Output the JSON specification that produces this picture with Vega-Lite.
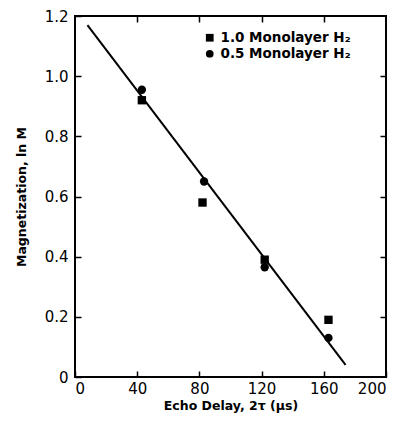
{
  "$schema": "https://vega.github.io/schema/vega-lite/v6.json",
  "width": 311,
  "height": 361,
  "autosize": "none",
  "padding": {"left": 75, "top": 16, "right": 19, "bottom": 44},
  "background": "white",
  "config": {
    "view": {"stroke": "black", "strokeWidth": 2},
    "font": "DejaVu Sans",
    "axis": {"grid": false, "domain": false, "tickColor": "black", "tickWidth": 1.5, "tickSize": -6, "labelFont": "DejaVu Sans", "labelFontSize": 15, "labelColor": "black", "titleFont": "DejaVu Sans", "titleFontSize": 12.5, "titleFontWeight": "bold", "titleColor": "black"}
  },
  "resolve": {"axis": {"x": "independent", "y": "independent"}},
  "datasets": {
    "pts": [
      {"delay": 43, "lnM": 0.92, "series": "1.0 Monolayer H₂"},
      {"delay": 82, "lnM": 0.58, "series": "1.0 Monolayer H₂"},
      {"delay": 122, "lnM": 0.39, "series": "1.0 Monolayer H₂"},
      {"delay": 163, "lnM": 0.19, "series": "1.0 Monolayer H₂"},
      {"delay": 43, "lnM": 0.955, "series": "0.5 Monolayer H₂"},
      {"delay": 83, "lnM": 0.65, "series": "0.5 Monolayer H₂"},
      {"delay": 122, "lnM": 0.365, "series": "0.5 Monolayer H₂"},
      {"delay": 163, "lnM": 0.13, "series": "0.5 Monolayer H₂"}
    ],
    "fit": [
      {"delay": 8, "lnM": 1.17},
      {"delay": 174, "lnM": 0.04}
    ]
  },
  "layer": [
    {
      "data": {"name": "fit"},
      "mark": {"type": "line", "color": "black", "strokeWidth": 2},
      "encoding": {
        "x": {"field": "delay", "type": "quantitative", "scale": {"domain": [0, 200], "nice": false}, "axis": {"values": [0, 40, 80, 120, 160, 200], "title": "Echo Delay, 2τ (μs)", "labelPadding": 10, "titlePadding": 3}},
        "y": {"field": "lnM", "type": "quantitative", "scale": {"domain": [0, 1.2], "nice": false}, "axis": {"values": [0, 0.2, 0.4, 0.6, 0.8, 1.0, 1.2], "labelExpr": "datum.value == 0 ? '0' : format(datum.value, '.1f')", "title": "Magnetization, ln M", "labelPadding": 13, "titlePadding": 16}}
      }
    },
    {
      "data": {"name": "pts"},
      "mark": {"type": "point", "filled": true, "opacity": 1, "size": 70},
      "encoding": {
        "x": {"field": "delay", "type": "quantitative", "axis": {"orient": "top", "values": [40, 80, 120, 160], "labels": false, "title": null}},
        "y": {"field": "lnM", "type": "quantitative", "axis": {"orient": "right", "values": [0.2, 0.4, 0.6, 0.8, 1.0], "labels": false, "title": null}},
        "shape": {"field": "series", "type": "nominal", "scale": {"domain": ["1.0 Monolayer H₂", "0.5 Monolayer H₂"], "range": ["square", "circle"]}, "legend": {"title": null, "orient": "none", "legendX": 128, "legendY": 15, "labelFontSize": 13.5, "labelFontWeight": "bold", "labelColor": "black", "symbolFillColor": "black", "symbolStrokeColor": "black", "symbolSize": 60, "rowPadding": 1}},
        "color": {"value": "black"}
      }
    }
  ]
}
